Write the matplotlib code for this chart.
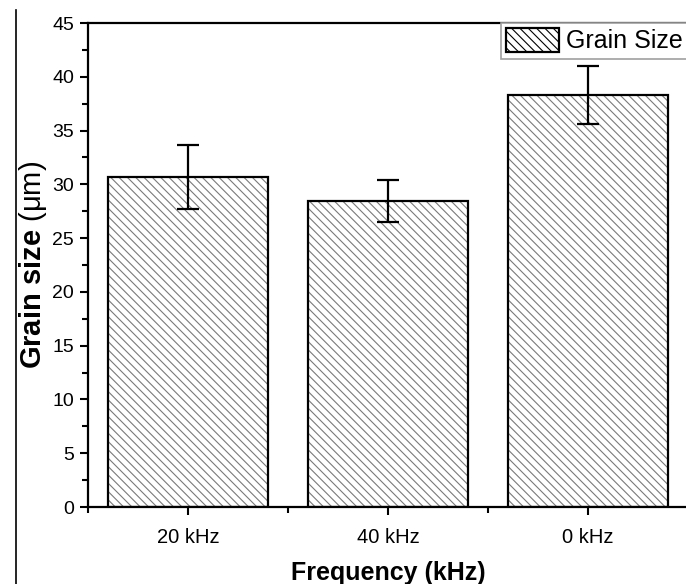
import matplotlib
matplotlib.use("Agg")
import matplotlib.pyplot as plt
from matplotlib.lines import Line2D
from matplotlib.patches import Patch
from matplotlib.ticker import MultipleLocator, FixedLocator

plt.rcParams['font.family'] = ['Liberation Sans', 'DejaVu Sans']
plt.rcParams['mathtext.fontset'] = 'custom'
plt.rcParams['mathtext.rm'] = 'Liberation Sans'
plt.rcParams['hatch.linewidth'] = 0.8

# data
categories = ["20 kHz", "40 kHz", "0 kHz"]
grain_size = [30.7, 28.45, 38.3]
grain_err = [2.95, 1.95, 2.67]

fig = plt.figure(figsize=(6.86, 5.84), dpi=100)
ax = fig.add_axes([88 / 686, 77 / 584, 600 / 686, 484 / 584])

x = list(range(1, len(categories) + 1))
hatch = '\\\\\\\\'

# hatch layer in grey, then black outlines on top
ax.bar(x, grain_size, width=0.8, color='white', edgecolor='#7a7a7a',
       hatch=hatch, linewidth=0, zorder=2)
ax.bar(x, grain_size, width=0.8, fill=False, edgecolor='black',
       linewidth=1.6, zorder=3)
ax.errorbar(x, grain_size, yerr=grain_err, fmt='none', ecolor='black',
            elinewidth=1.6, capsize=8, capthick=1.6, zorder=4)

ax.set_xlim(0.5, 3.5)
ax.set_ylim(0, 45)
ax.set_xticks(x)
ax.set_xticklabels(categories)
ax.xaxis.set_minor_locator(FixedLocator([0.5, 1.5, 2.5, 3.5]))
ax.yaxis.set_major_locator(MultipleLocator(5))
ax.yaxis.set_minor_locator(MultipleLocator(2.5))

ax.tick_params(axis='both', which='major', direction='out', length=6,
               width=1.5)
ax.tick_params(axis='both', which='minor', direction='out', length=4,
               width=1.5)
ax.tick_params(axis='x', which='major', labelsize=14.5, pad=9)
ax.tick_params(axis='y', which='major', labelsize=14, pad=4)
for s in ax.spines.values():
    s.set_linewidth(1.6)

ax.set_xlabel("Frequency (kHz)", fontsize=18, fontweight='bold', labelpad=10)
# units part in regular weight, like the original
ax.set_ylabel(r"Grain size $\mathrm{(\mu m)}$", fontsize=21,
              fontweight='bold', labelpad=2)

# legend proxy
leg_handle = Patch(facecolor='white', edgecolor='black', hatch=hatch,
                   linewidth=1.6)
leg = ax.legend([leg_handle], ["Grain Size"], loc='upper right',
                bbox_to_anchor=(1.0, 1.0), borderaxespad=0, fontsize=18,
                fancybox=False, edgecolor='#a0a0a0', framealpha=1,
                handlelength=2.1, handleheight=1.1, borderpad=0.2,
                handletextpad=0.3)
leg.get_frame().set_linewidth(1.2)

# thin vertical border line at the left of the picture
fig.add_artist(Line2D([16 / 686, 16 / 686], [0, 574 / 584], color='black',
                      linewidth=1.2))

fig.savefig("out.png", dpi=100)
